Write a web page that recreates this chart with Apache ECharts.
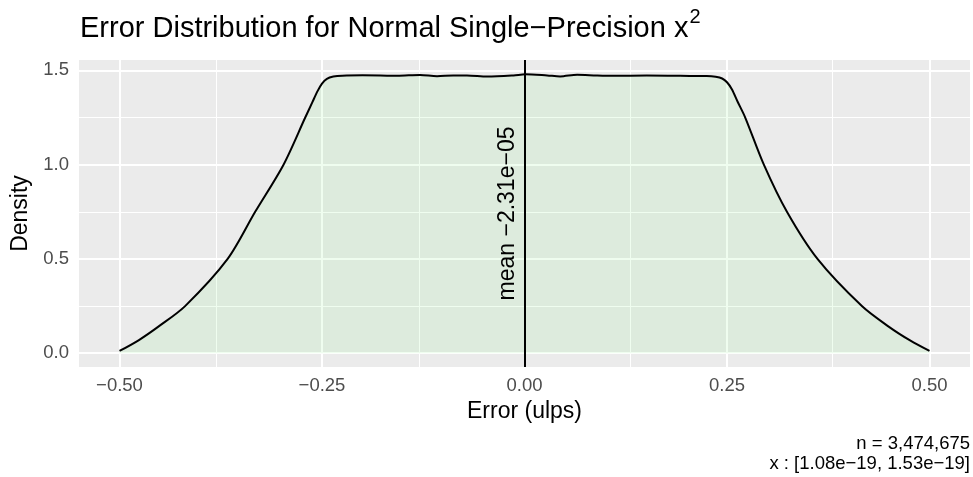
<!DOCTYPE html>
<html>
<head>
<meta charset="utf-8">
<script src="https://cdn.jsdelivr.net/npm/echarts@6/dist/echarts.min.js"></script>
<style>
  html, body { margin: 0; padding: 0; background: #fff; }
  #chart { width: 973px; height: 477px; }
</style>
</head>
<body>
<div id="chart"></div>
<script>
// density curve
const errX = [-0.5, -0.476, -0.452, -0.419, -0.3665, -0.3325, -0.2975, -0.2707, -0.262, -0.2555,
  -0.25, -0.244, -0.236, -0.225, -0.2, -0.178, -0.157, -0.129, -0.108, -0.088, -0.071,
  -0.046, -0.0136, 0.001, 0.028, 0.044, 0.065, 0.089, 0.11, 0.151, 0.192, 0.225, 0.236,
  0.244, 0.25, 0.256, 0.263, 0.2725, 0.2955, 0.324, 0.3617, 0.4165, 0.45, 0.476, 0.5];
const density = [0.012, 0.07, 0.141, 0.25, 0.5, 0.75, 1.0, 1.25, 1.33, 1.39,
  1.43, 1.455, 1.467, 1.472, 1.474, 1.473, 1.471, 1.476, 1.469, 1.473, 1.473,
  1.467, 1.473, 1.479, 1.473, 1.468, 1.477, 1.473, 1.471, 1.473, 1.471, 1.47, 1.466,
  1.457, 1.437, 1.4, 1.335, 1.25, 1.0, 0.75, 0.5, 0.25, 0.14, 0.068, 0.012];
const meanErr = -2.31e-5;

const xTicks = [-0.5, -0.25, 0, 0.25, 0.5];
const xTickLabels = ['\u22120.50', '\u22120.25', '0.00', '0.25', '0.50'];
const xMinor = [-0.375, -0.125, 0.125, 0.375];
const yTicks = [0, 0.5, 1, 1.5];
const yTickLabels = ['0.0', '0.5', '1.0', '1.5'];
const yMinor = [0.25, 0.75, 1.25];

const font = 'Liberation Sans, Arial, sans-serif';
const chart = echarts.init(document.getElementById('chart'));

const gridLines = [];
xMinor.forEach((v) => gridLines.push({ xAxis: v, lineStyle: { width: 1 } }));
yMinor.forEach((v) => gridLines.push({ yAxis: v, lineStyle: { width: 1 } }));
xTicks.forEach((v) => gridLines.push({ xAxis: v, lineStyle: { width: 2 } }));
yTicks.forEach((v) => gridLines.push({ yAxis: v, lineStyle: { width: 2 } }));

const captionStyle = { fontFamily: font, fontSize: 18.5, fill: '#000' };

const option = {
  animation: false,
  title: {
    text: '{t|Error Distribution for Normal Single\u2212Precision x}{s|2}',
    left: 75,
    top: 2,
    textStyle: {
      rich: {
        t: { fontFamily: font, fontSize: 29, fontWeight: 'normal', color: '#000', verticalAlign: 'bottom', lineHeight: 36 },
        s: { fontFamily: font, fontSize: 20, fontWeight: 'normal', color: '#000', verticalAlign: 'top', lineHeight: 36, padding: [0, 0, 15, 1] },
      },
    },
  },
  grid: {
    left: 79,
    right: 3,
    top: 60,
    bottom: 110,
    show: true,
    backgroundColor: '#EBEBEB',
    borderWidth: 0,
  },
  xAxis: {
    type: 'value',
    min: -0.55,
    max: 0.55,
    name: 'Error (ulps)',
    nameLocation: 'middle',
    nameGap: 30,
    nameTextStyle: { fontFamily: font, fontSize: 23, color: '#000' },
    axisLine: { show: false },
    axisTick: { show: true, length: 6, lineStyle: { color: '#333', width: 2 }, customValues: xTicks },
    axisLabel: {
      fontFamily: font, fontSize: 18.5, color: '#4D4D4D', margin: 9,
      customValues: xTicks,
      formatter: (v) => xTickLabels[xTicks.indexOf(v)],
    },
    splitLine: { show: false },
  },
  yAxis: {
    type: 'value',
    min: -0.073,
    max: 1.555,
    name: 'Density',
    nameLocation: 'middle',
    nameGap: 44,
    nameTextStyle: { fontFamily: font, fontSize: 23, color: '#000' },
    axisLine: { show: false },
    axisTick: { show: true, length: 6, lineStyle: { color: '#333', width: 2 }, customValues: yTicks },
    axisLabel: {
      fontFamily: font, fontSize: 18.5, color: '#4D4D4D', margin: 10,
      customValues: yTicks,
      formatter: (v) => yTickLabels[yTicks.indexOf(v)],
    },
    splitLine: { show: false },
  },
  graphic: [
    {
      type: 'text',
      right: 3,
      bottom: 24,
      style: Object.assign({ text: 'n = 3,474,675' }, captionStyle),
    },
    {
      type: 'text',
      right: 3,
      bottom: 4,
      style: Object.assign({ text: 'x : [1.08e\u221219, 1.53e\u221219]' }, captionStyle),
    },
  ],
  series: [
    {
      // panel grid lines, kept below the density fill
      type: 'line',
      data: [],
      z: 1,
      silent: true,
      markLine: {
        z: 1,
        silent: true,
        symbol: 'none',
        label: { show: false },
        lineStyle: { color: '#fff', type: 'solid' },
        data: gridLines,
      },
    },
    {
      type: 'line',
      z: 3,
      data: errX.map((x, i) => [x, density[i]]),
      smooth: 0.3,
      symbol: 'none',
      lineStyle: { color: '#000', width: 2 },
      areaStyle: { color: 'rgba(144, 238, 144, 0.2)', origin: 0 },
      markLine: {
        z: 5,
        silent: true,
        symbol: 'none',
        lineStyle: { color: '#000', width: 2, type: 'solid' },
        label: {
          show: true,
          position: 'insideMiddleTop',
          formatter: 'mean \u22122.31e\u221205',
          fontFamily: font,
          fontSize: 23,
          color: '#000',
          distance: 5,
        },
        data: [{ xAxis: meanErr }],
      },
    },
  ],
};
chart.setOption(option);
</script>
</body>
</html>
